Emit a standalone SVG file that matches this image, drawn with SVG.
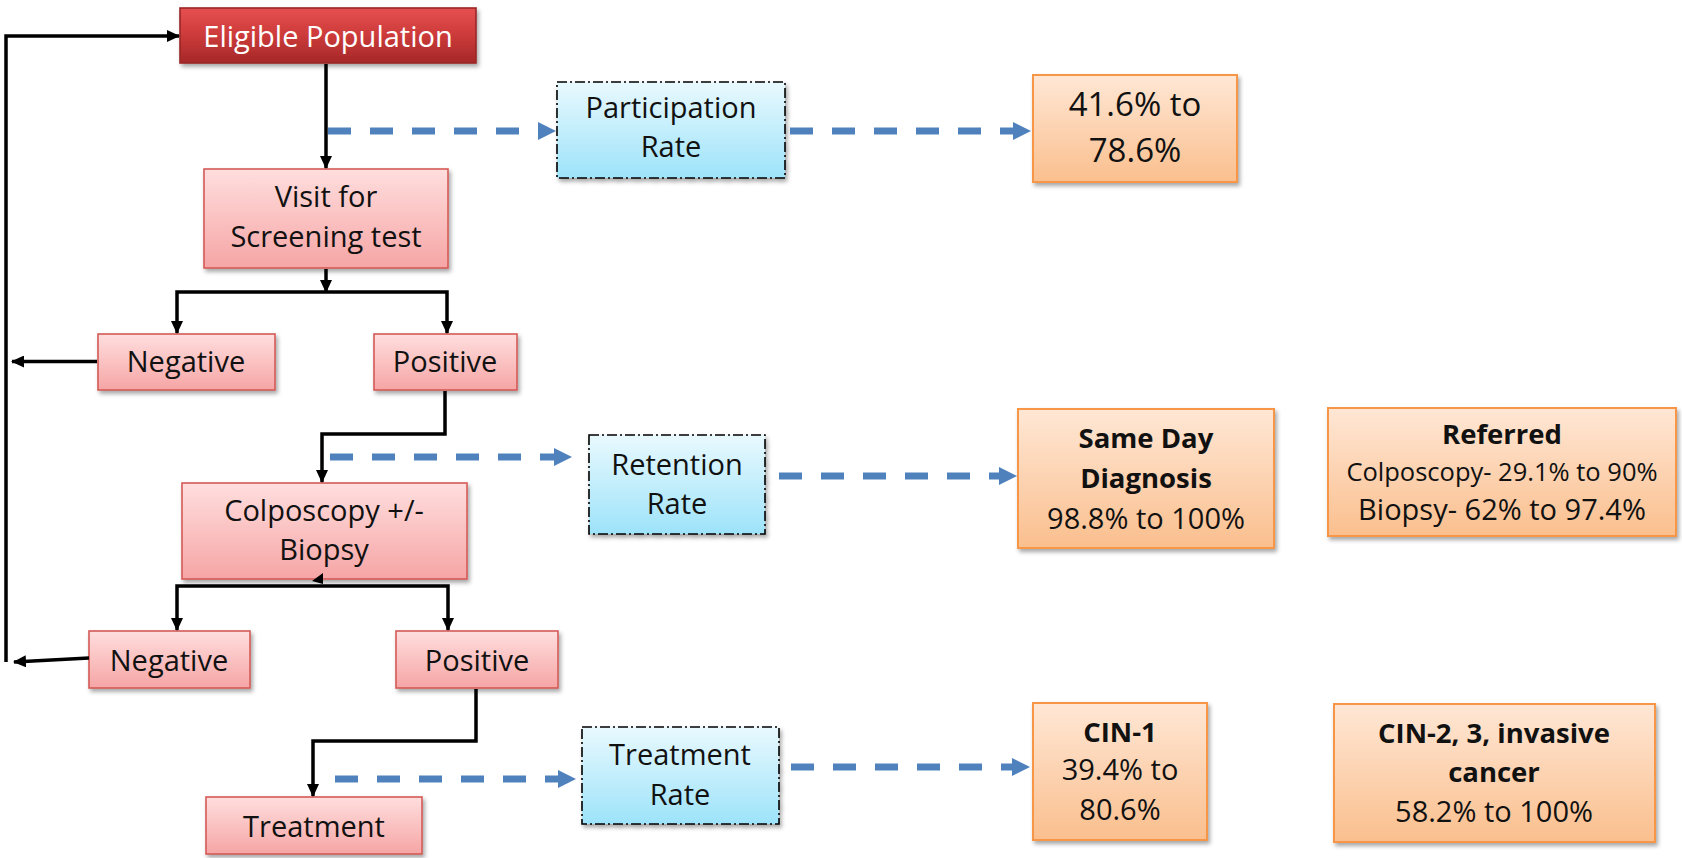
<svg xmlns="http://www.w3.org/2000/svg" width="1682" height="858" viewBox="0 0 1682 858">
<defs>
<linearGradient id="gRed" x1="0" y1="0" x2="0" y2="1"><stop offset="0" stop-color="#FFDEDE"/><stop offset="1" stop-color="#F6A5A5"/></linearGradient>
<linearGradient id="gDark" x1="0" y1="0" x2="0" y2="1"><stop offset="0" stop-color="#E65050"/><stop offset="0.5" stop-color="#CC3A3A"/><stop offset="1" stop-color="#A52828"/></linearGradient>
<linearGradient id="gBlue" x1="0" y1="0" x2="0" y2="1"><stop offset="0" stop-color="#E9F9FE"/><stop offset="1" stop-color="#9DE3FA"/></linearGradient>
<linearGradient id="gOrange" x1="0" y1="0" x2="0" y2="1"><stop offset="0" stop-color="#FFE7D5"/><stop offset="1" stop-color="#FABF8E"/></linearGradient>
<filter id="sh" x="-10%" y="-10%" width="130%" height="140%"><feDropShadow dx="2" dy="3" stdDeviation="2" flood-color="#000" flood-opacity="0.35"/></filter>
<marker id="ab" markerUnits="userSpaceOnUse" markerWidth="13" markerHeight="12" refX="12" refY="6" orient="auto-start-reverse"><path d="M0,0 L13,6 L0,12 z" fill="#000"/></marker>
<marker id="au" markerUnits="userSpaceOnUse" markerWidth="18" markerHeight="18" refX="1" refY="9" orient="auto"><path d="M0,0 L18,9 L0,18 z" fill="#4F81BD"/></marker>
<style>
.red{fill:url(#gRed);stroke:#D45A57;stroke-width:1.6;filter:url(#sh)}
.dark{fill:url(#gDark);stroke:#9A2626;stroke-width:1.6;filter:url(#sh)}
.blue{fill:url(#gBlue);stroke:#000;stroke-width:1.6;stroke-dasharray:10 3 2 3;filter:url(#sh)}
.org{fill:url(#gOrange);stroke:#F79646;stroke-width:2;filter:url(#sh)}
text{font-family:"Open Sans","DejaVu Sans",sans-serif;font-size:29px;fill:#111;text-anchor:middle}
.w{fill:#fff}
.b{font-weight:bold;font-size:27.5px}
.big{font-size:33px}
.sm{font-size:25.5px}
.ln{fill:none;stroke:#000;stroke-width:3.5}
.dl{fill:none;stroke:#4F81BD;stroke-width:7;stroke-dasharray:23 19}
</style>
</defs>
<rect width="1682" height="858" fill="#fff"/>

<g id="eligible"><rect class="dark" x="180" y="8" width="296" height="55"/><text class="w" x="328" y="47">Eligible Population</text></g>
<g id="visit"><rect class="red" x="204" y="169" width="244" height="99"/><text x="326" y="207">Visit for</text><text x="326" y="247">Screening test</text></g>
<g id="negative1"><rect class="red" x="98" y="334" width="177" height="56"/><text x="186" y="372">Negative</text></g>
<g id="positive1"><rect class="red" x="374" y="334" width="143" height="56"/><text x="445" y="372">Positive</text></g>
<g id="participation"><rect class="blue" x="557" y="82" width="228" height="96"/><text x="671" y="118">Participation</text><text x="671" y="157">Rate</text></g>
<g id="participation-value"><rect class="org" x="1033" y="75" width="204" height="107"/><text class="big" x="1135" y="116">41.6% to</text><text class="big" x="1135" y="162">78.6%</text></g>
<g id="retention"><rect class="blue" x="589" y="435" width="176" height="99"/><text x="677" y="475">Retention</text><text x="677" y="514">Rate</text></g>
<g id="colposcopy"><rect class="red" x="182" y="483" width="285" height="96"/><text x="324" y="521">Colposcopy +/-</text><text x="324" y="560">Biopsy</text></g>
<g id="same-day"><rect class="org" x="1018" y="409" width="256" height="139"/><text class="b" x="1146" y="448">Same Day</text><text class="b" x="1146" y="488">Diagnosis</text><text x="1146" y="529">98.8% to 100%</text></g>
<g id="referred"><rect class="org" x="1328" y="408" width="348" height="128"/><text class="b" x="1502" y="444">Referred</text><text class="sm" x="1502" y="481">Colposcopy- 29.1% to 90%</text><text x="1502" y="520">Biopsy- 62% to 97.4%</text></g>
<g id="negative2"><rect class="red" x="89" y="631" width="161" height="57"/><text x="169" y="671">Negative</text></g>
<g id="positive2"><rect class="red" x="396" y="631" width="162" height="57"/><text x="477" y="671">Positive</text></g>
<g id="treatment"><rect class="red" x="206" y="797" width="216" height="57"/><text x="314" y="837">Treatment</text></g>
<g id="treatment-rate"><rect class="blue" x="582" y="727" width="197" height="97"/><text x="680" y="765">Treatment</text><text x="680" y="805">Rate</text></g>
<g id="cin1"><rect class="org" x="1033" y="703" width="174" height="137"/><text class="b" x="1120" y="742">CIN-1</text><text x="1120" y="780">39.4% to</text><text x="1120" y="820">80.6%</text></g>
<g id="cin23"><rect class="org" x="1334" y="704" width="321" height="138"/><text class="b" x="1494" y="743">CIN-2, 3, invasive</text><text class="b" x="1494" y="782">cancer</text><text x="1494" y="822">58.2% to 100%</text></g>

<g id="connectors">
<path class="ln" d="M89,658 L14,662" marker-end="url(#ab)"/>
<path class="ln" d="M6,662 L6,36 L179,36" marker-end="url(#ab)"/>
<path class="ln" d="M97,361.5 L12,361.5" marker-end="url(#ab)"/>
<path class="ln" d="M326,64 L326,168" marker-end="url(#ab)"/>
<path class="ln" d="M326,269 L326,292" marker-end="url(#ab)"/>
<path class="ln" d="M177,333 L177,292 L447,292 L447,333" marker-start="url(#ab)" marker-end="url(#ab)"/>
<path class="ln" d="M445,391 L445,434 L322,434 L322,482" marker-end="url(#ab)"/>
<path class="ln" d="M177,630 L177,586 L448,586 L448,630" marker-start="url(#ab)" marker-end="url(#ab)"/>
<polygon points="312,581 323,573 323,584" fill="#000"/>
<path class="ln" d="M476,689 L476,741 L313,741 L313,796" marker-end="url(#ab)"/>
<path class="dl" d="M328,131 L539,131" marker-end="url(#au)"/>
<path class="dl" d="M790,131 L1014,131" marker-end="url(#au)"/>
<path class="dl" d="M330,457 L555,457" marker-end="url(#au)"/>
<path class="dl" d="M779,476 L1000,476" marker-end="url(#au)"/>
<path class="dl" d="M335,779 L559,779" marker-end="url(#au)"/>
<path class="dl" d="M791,767 L1013,767" marker-end="url(#au)"/>
</g>
</svg>
